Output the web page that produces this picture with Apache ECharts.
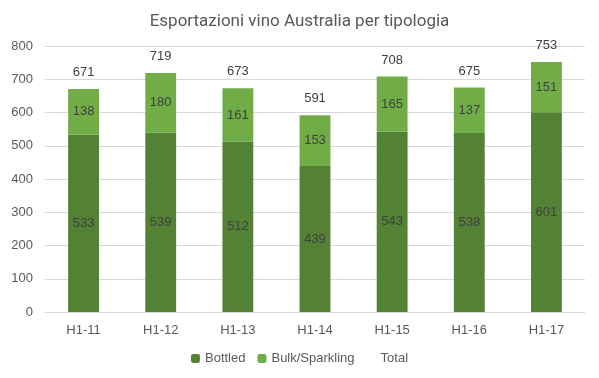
<!DOCTYPE html>
<html>
<head>
<meta charset="utf-8">
<script src="https://cdn.jsdelivr.net/npm/echarts@6/dist/echarts.min.js"></script>
<style>
  html, body { margin: 0; padding: 0; background: #fff; }
  #chart { width: 599px; height: 378px; }
</style>
</head>
<body>
<div id="chart"></div>
<script>
const categories = ['H1-11', 'H1-12', 'H1-13', 'H1-14', 'H1-15', 'H1-16', 'H1-17'];
const bottled = [533, 539, 512, 439, 543, 538, 601];
const bulk = [138, 180, 161, 153, 165, 137, 151];
const totals = [671, 719, 673, 591, 708, 675, 753];

const txt = '#404040';
const fontMain = 'Liberation Sans Narrow, Roboto, sans-serif';

const chart = echarts.init(document.getElementById('chart'));
chart.setOption({
  animation: false,
  title: {
    text: 'Esportazioni vino Australia per tipologia',
    left: 'center',
    top: 8,
    textStyle: { fontSize: 17, fontWeight: 'normal', color: '#595959', fontFamily: fontMain }
  },
  legend: {
    bottom: 8,
    itemWidth: 9,
    itemHeight: 9,
    itemGap: 12,
    textStyle: { fontSize: 13, color: '#595959', fontFamily: 'Liberation Sans, sans-serif' },
    data: ['Bottled', 'Bulk/Sparkling', { name: 'Total', itemStyle: { color: 'rgba(0,0,0,0)' } }]
  },
  grid: { left: 45, right: 14, top: 46, bottom: 66 },
  xAxis: {
    type: 'category',
    data: categories,
    axisTick: { show: false },
    axisLine: { lineStyle: { color: '#d9d9d9' } },
    axisLabel: { fontSize: 13, color: '#595959', margin: 12 }
  },
  yAxis: {
    type: 'value',
    min: 0,
    max: 800,
    interval: 100,
    axisLabel: { fontSize: 13, color: '#595959', margin: 12 },
    splitLine: { lineStyle: { color: '#d9d9d9' } }
  },
  series: [
    {
      name: 'Bottled',
      type: 'bar',
      stack: 'a',
      barWidth: '40%',
      data: bottled,
      itemStyle: { color: '#548235' },
      label: { show: true, position: 'inside', color: txt, fontSize: 13 }
    },
    {
      name: 'Bulk/Sparkling',
      type: 'bar',
      stack: 'a',
      data: bulk,
      itemStyle: { color: '#70ad47' },
      label: { show: true, position: 'inside', color: txt, fontSize: 13 }
    },
    {
      name: 'Total',
      type: 'bar',
      stack: 'a',
      data: totals.map(() => 0),
      itemStyle: { color: 'rgba(0,0,0,0)' },
      label: {
        show: true,
        position: 'top',
        distance: 10,
        color: txt,
        fontSize: 13,
        formatter: p => totals[p.dataIndex]
      }
    }
  ]
});
</script>
</body>
</html>
